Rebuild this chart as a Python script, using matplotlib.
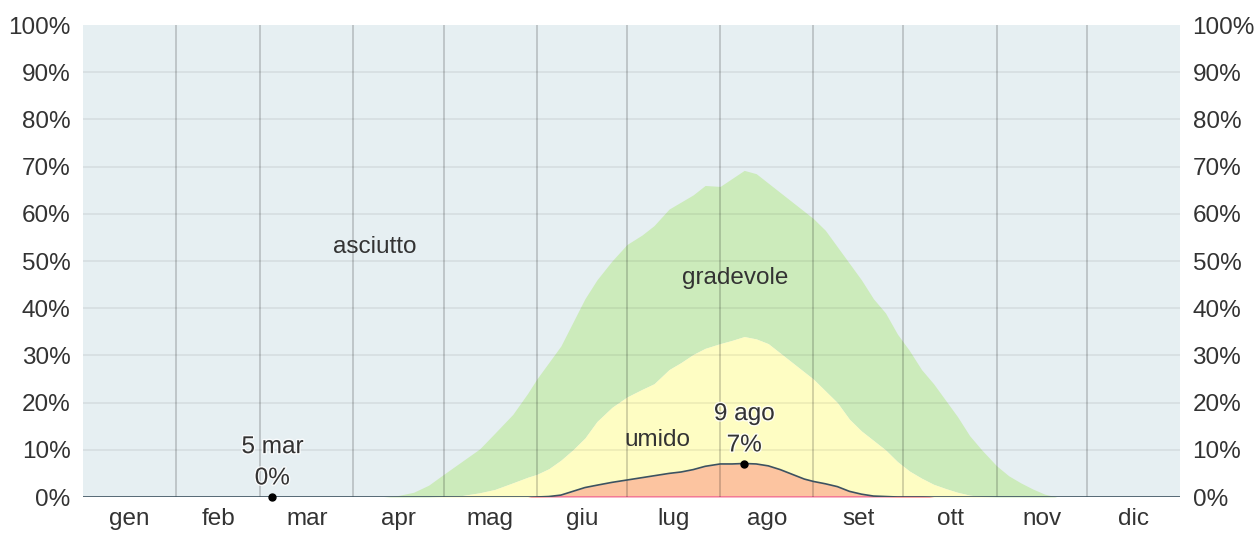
import numpy as np
import matplotlib

matplotlib.use("Agg")
import matplotlib.pyplot as plt
import matplotlib.patheffects as pe

plt.rcParams["font.family"] = ["Liberation Sans", "DejaVu Sans"]

# day of year (0 = 1 gen)
days = [0, 100, 104, 110, 115, 120, 126, 132, 137, 143, 148, 151, 155, 159, 163, 167, 171,
        176, 181, 186, 190, 195, 199, 203, 207, 212, 216, 220, 224, 228, 232, 236, 240, 243,
        247, 251, 255, 259, 263, 267, 271, 275, 279, 283, 287, 291, 295, 299, 304, 308, 312,
        316, 320, 324, 330, 365]

# cumulative percentages (from the bottom up)
opprimente = [0, 0, 0, 0, 0, 0, 0, 0, 0, 0, 0, 0.3, 0.3, 0.3, 0.3, 0.3, 0.3,
              0.3, 0.3, 0.3, 0.3, 0.3, 0.3, 0.3, 0.3, 0.3, 0.3, 0.3, 0.3, 0.3, 0.3, 0.3, 0.3, 0.3,
              0.3, 0.3, 0.3, 0.3, 0.3, 0.3, 0.3, 0.3, 0.3, 0, 0, 0, 0, 0, 0, 0, 0,
              0, 0, 0, 0, 0]
afoso = [0, 0, 0, 0, 0, 0, 0, 0, 0, 0, 0, 0, 0.1, 0.4, 1.2, 2.0, 2.5,
         3.1, 3.6, 4.1, 4.5, 5.0, 5.3, 5.8, 6.5, 7.0, 7.0, 7.1, 7.0, 6.6, 5.8, 4.8, 3.8, 3.3,
         2.8, 2.2, 1.2, 0.6, 0.2, 0.1, 0, 0, 0, 0, 0, 0, 0, 0, 0, 0, 0,
         0, 0, 0, 0, 0]
umido = [0, 0, 0, 0, 0, 0.1, 0.3, 0.9, 1.6, 3.0, 4.2, 4.8, 6.0, 7.8, 10.0, 12.5, 16.0,
         19.0, 21.2, 22.8, 24.0, 27.0, 28.5, 30.2, 31.5, 32.5, 33.2, 34.0, 33.5, 32.5, 30.5, 28.5, 26.5, 25.0,
         22.5, 20.0, 16.5, 14.0, 12.0, 10.0, 7.5, 5.5, 4.0, 2.7, 1.8, 1.0, 0.4, 0.1, 0, 0, 0,
         0, 0, 0, 0, 0]
gradevole = [0, 0, 0.2, 1.0, 2.5, 4.8, 7.5, 10.2, 13.5, 17.5, 22.0, 25.0, 28.5, 32.0, 37.0, 42.0, 46.0,
             50.0, 53.5, 55.5, 57.5, 61.0, 62.5, 64.0, 66.0, 65.8, 67.5, 69.2, 68.5, 66.5, 64.5, 62.5, 60.5, 59.0,
             56.5, 53.0, 49.5, 46.0, 42.0, 39.0, 34.5, 31.0, 27.0, 24.0, 20.5, 17.0, 13.0, 10.0, 6.6, 4.5, 3.0,
             1.7, 0.6, 0, 0, 0]

month_starts = [31, 59, 90, 120, 151, 181, 212, 243, 273, 304, 334]
month_names = ["gen", "feb", "mar", "apr", "mag", "giu", "lug", "ago", "set", "ott", "nov", "dic"]

band_labels = ["asciutto", "gradevole", "umido"]
band_label_pos = [(97, 53), (217, 46.5), (191, 12)]

marker_days = [63, 220]
marker_values = [0, 7]
marker_texts = ["5 mar\n0%", "9 ago\n7%"]

TEXT = "#333333"
FS = 17.5

fig = plt.figure(figsize=(12.57, 5.33), dpi=100)
ax = fig.add_axes([83 / 1257, 36 / 533, 1097 / 1257, 472 / 533])
ax.set_facecolor("#e6eff2")
ax.set_xlim(0, 365)
ax.set_ylim(0, 100)

ax.fill_between(days, umido, gradevole, color="#ccebbb", lw=0, zorder=1)
ax.fill_between(days, afoso, umido, color="#fefdc3", lw=0, zorder=1)
ax.fill_between(days, opprimente, afoso, color="#fcc4a0", lw=0, zorder=1)
ax.fill_between(days, 0, opprimente, color="#f4718f", lw=0, zorder=1)
ax.plot(days, afoso, color="#3d5260", lw=1.2, zorder=4)

for y in range(10, 100, 10):
    ax.axhline(y, color="black", alpha=0.07, lw=1.2, zorder=3)
for d in month_starts:
    ax.axvline(d, color="black", alpha=0.2, lw=1.2, zorder=3)

for spine in ax.spines.values():
    spine.set_visible(False)

yticks = list(range(0, 101, 10))
ylabels = [f"{v}%" for v in yticks]
ax.set_yticks(yticks)
ax.set_yticklabels(ylabels, fontsize=FS, color=TEXT)
ax.tick_params(axis="y", length=0, pad=9)

mids = [(a + b) / 2 for a, b in zip([0] + month_starts, month_starts + [365])]
ax.set_xticks(mids)
ax.set_xticklabels(month_names, fontsize=FS, color=TEXT)
ax.tick_params(axis="x", length=0, pad=8)

ax2 = ax.twinx()
ax2.set_ylim(0, 100)
ax2.set_yticks(yticks)
ax2.set_yticklabels(ylabels, fontsize=FS, color=TEXT)
ax2.tick_params(axis="y", length=0, pad=9)
for spine in ax2.spines.values():
    spine.set_visible(False)

for txt, (x, y) in zip(band_labels, band_label_pos):
    ax.text(x, y, txt, fontsize=FS, color=TEXT, ha="center", va="center", zorder=5)

halo = [pe.withStroke(linewidth=2, foreground="white", alpha=0.8)]
for d, v, txt in zip(marker_days, marker_values, marker_texts):
    ax.plot([d], [v], "o", color="black", ms=5, zorder=6, clip_on=False)
    ax.text(d, v + 1.6, txt, fontsize=FS, color=TEXT, ha="center", va="bottom",
            linespacing=1.55, zorder=6, path_effects=halo)

fig.savefig("out.png", dpi=100)
